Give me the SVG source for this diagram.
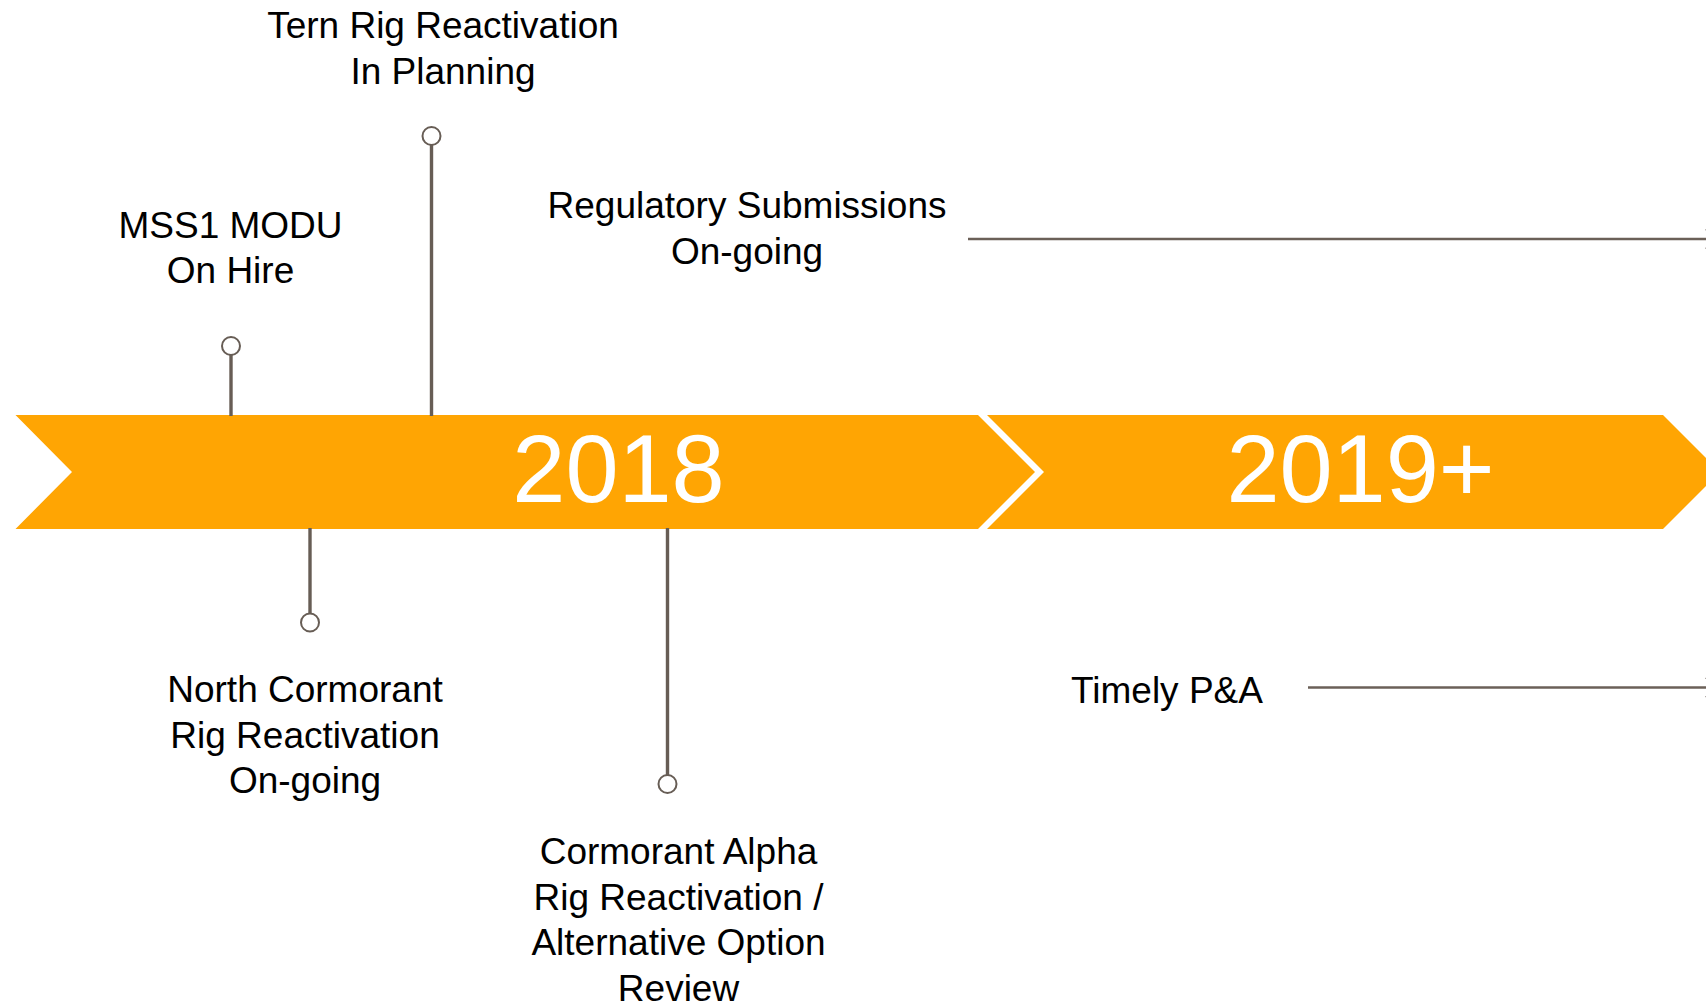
<svg xmlns="http://www.w3.org/2000/svg" width="1706" height="1005" viewBox="0 0 1706 1005">
<style>
.lbl{font-family:"Liberation Sans",Arial,sans-serif;font-size:37px;fill:#000;text-anchor:middle}
.yr{font-family:"Liberation Sans",Arial,sans-serif;font-size:95.5px;fill:#fff;text-anchor:middle}
.band{fill:#FFA503}
.stem{stroke:#675d55;stroke-width:3.4;fill:none}
.pin{fill:#fff;stroke:#675d55;stroke-width:2}
.arr{stroke:#6b6058;stroke-width:2.6;fill:none}
</style>
<defs>
<marker id="open" markerWidth="14" markerHeight="22" refX="12" refY="11" orient="auto" markerUnits="userSpaceOnUse">
<path d="M1,1 L12,11 L1,21" fill="none" stroke="#6b6058" stroke-width="2.4"/>
</marker>
</defs>
<rect width="1706" height="1005" fill="#fff"/>
<g id="band-2018">
<polygon class="band" points="15.5,415 978,415 1035,472 978,529 15.5,529 72,472"/>
<text class="yr" x="618.5" y="501.5">2018</text>
</g>
<g id="band-2019">
<polygon class="band" points="987,415 1663,415 1720,472 1663,529 987,529 1044,472"/>
<text class="yr" x="1360.5" y="501.5">2019+</text>
</g>
<g id="connectors">
<line class="stem" x1="231" y1="355" x2="231" y2="416"/>
<line class="stem" x1="431.5" y1="145" x2="431.5" y2="416"/>
<line class="stem" x1="310" y1="528" x2="310" y2="613"/>
<line class="stem" x1="667.5" y1="528" x2="667.5" y2="775"/>
<line class="arr" x1="968" y1="239" x2="1717" y2="239" marker-end="url(#open)"/>
<line class="arr" x1="1308" y1="687.5" x2="1717" y2="687.5" marker-end="url(#open)"/>
</g>
<g id="node-mss1">
<circle class="pin" cx="231" cy="346" r="9"/>
<text class="lbl" x="230.5" y="237.5">MSS1 MODU</text>
<text class="lbl" x="230.5" y="282.5">On Hire</text>
</g>
<g id="node-tern">
<circle class="pin" cx="431.5" cy="136" r="9"/>
<text class="lbl" x="443" y="38">Tern Rig Reactivation</text>
<text class="lbl" x="443" y="83.5">In Planning</text>
</g>
<g id="node-regulatory">
<text class="lbl" x="747" y="218">Regulatory Submissions</text>
<text class="lbl" x="747" y="263.5">On-going</text>
</g>
<g id="node-north-cormorant">
<circle class="pin" cx="310" cy="622.5" r="9"/>
<text class="lbl" x="305" y="702">North Cormorant</text>
<text class="lbl" x="305" y="747.5">Rig Reactivation</text>
<text class="lbl" x="305" y="793">On-going</text>
</g>
<g id="node-cormorant-alpha">
<circle class="pin" cx="667.5" cy="784" r="9"/>
<text class="lbl" x="678.5" y="864">Cormorant Alpha</text>
<text class="lbl" x="678.5" y="909.5">Rig Reactivation /</text>
<text class="lbl" x="678.5" y="955">Alternative Option</text>
<text class="lbl" x="678.5" y="1000.5">Review</text>
</g>
<g id="node-timely">
<text class="lbl" x="1167" y="703">Timely P&amp;A</text>
</g>
</svg>
